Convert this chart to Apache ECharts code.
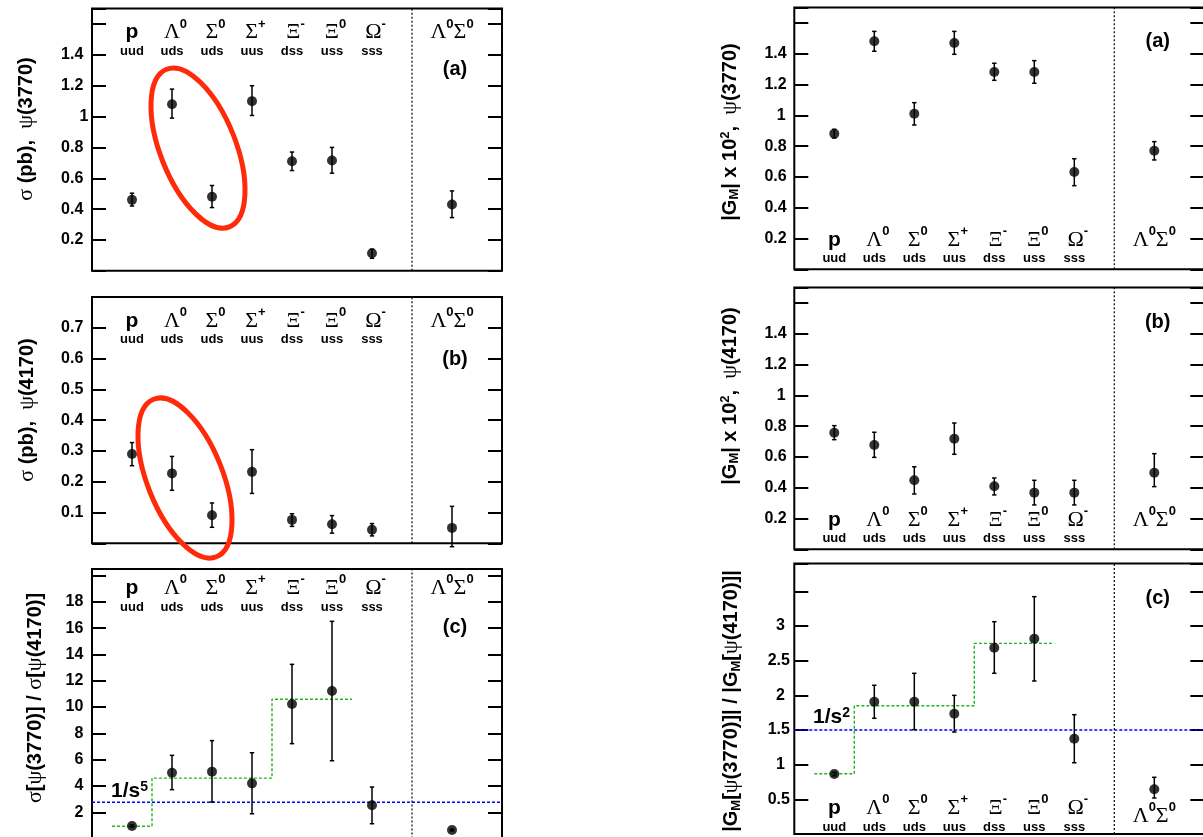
<!DOCTYPE html>
<html><head><meta charset="utf-8">
<script src="https://cdn.jsdelivr.net/npm/echarts@6/dist/echarts.min.js"></script>
<style>html,body{margin:0;padding:0;background:#fff}#c{width:1203px;height:837px}</style>
</head><body><div id="c"></div>
<script>
// ---------------- data ----------------
const xPositions = [1, 2, 3, 4, 5, 6, 7, 9];
const particleNames = ['p', 'Λ', 'Σ', 'Σ', 'Ξ', 'Ξ', 'Ω'];
const particleCharges = ['', '0', '0', '+', '-', '0', '-'];
const quarkContent = ['uud', 'uds', 'uds', 'uus', 'dss', 'uss', 'sss'];
const separatorX = 8;
const xMin = 0, xMax = 10.25;

const sigma3770 = [0.46, 1.08, 0.48, 1.10, 0.71, 0.715, 0.114, 0.43];
const sigma3770Lo = [0.42, 0.99, 0.41, 1.007, 0.65, 0.633, 0.081, 0.345];
const sigma3770Hi = [0.503, 1.178, 0.553, 1.20, 0.77, 0.80, 0.14, 0.518];

const sigma4170 = [0.290, 0.227, 0.091, 0.232, 0.076, 0.062, 0.044, 0.05];
const sigma4170Lo = [0.252, 0.172, 0.052, 0.162, 0.055, 0.033, 0.024, -0.011];
const sigma4170Hi = [0.327, 0.282, 0.131, 0.304, 0.096, 0.090, 0.064, 0.12];

const sigmaRatio = [0.96, 5.01, 5.09, 4.2, 10.24, 11.22, 2.53, 0.65];
const sigmaRatioLo = [0.88, 3.72, 2.78, 1.89, 7.22, 5.92, 1.13, 0.58];
const sigmaRatioHi = [1.04, 6.33, 7.45, 6.53, 13.25, 16.52, 3.92, 0.72];

const gm3770 = [0.881, 1.481, 1.010, 1.469, 1.281, 1.281, 0.632, 0.770];
const gm3770Lo = [0.853, 1.416, 0.937, 1.396, 1.227, 1.208, 0.543, 0.71];
const gm3770Hi = [0.909, 1.545, 1.082, 1.545, 1.338, 1.355, 0.718, 0.829];

const gm4170 = [0.757, 0.677, 0.448, 0.718, 0.409, 0.368, 0.368, 0.497];
const gm4170Lo = [0.712, 0.597, 0.359, 0.617, 0.353, 0.288, 0.288, 0.407];
const gm4170Hi = [0.803, 0.76, 0.536, 0.82, 0.463, 0.448, 0.448, 0.621];

const gmRatio = [0.865, 1.908, 1.908, 1.735, 2.687, 2.817, 1.375, 0.645];
const gmRatioLo = [0.84, 1.669, 1.505, 1.471, 2.318, 2.207, 1.028, 0.519];
const gmRatioHi = [0.89, 2.145, 2.318, 2.0, 3.062, 3.423, 1.721, 0.818];

const stepEdges = [0.5, 1.5, 4.5, 6.5];
const sigmaStepLevels = [0.94, 4.6, 10.6];
const gmStepLevels = [0.87, 1.85, 2.75];
const sigmaPowerLaw = 2.76;   // 1/s^5
const gmPowerLaw = 1.5;       // 1/s^2

const ellipseCenters = [[2.65, 0.796], [2.325, 0.212]];

const yTicksA = {min: 0, max: 1.7, interval: 0.2, hide: [1.6]};
const yTicksB = {min: 0, max: 0.8, interval: 0.1, hide: []};
const yTicksC = {min: 0, max: 20.5, interval: 2, hide: [20]};
const yTicksGC = {min: 0, max: 3.9, interval: 0.5, hide: [3.5]};

// ---------------- layout ----------------
const SANS = 'Liberation Sans', SERIF = 'Liberation Serif';
const panels = [
  {grid: {left: 92, top: 8.6, width: 410, height: 262.2}, y: yTicksA, side: 'top', lm: 9, raise: false,
   v: sigma3770, lo: sigma3770Lo, hi: sigma3770Hi, decPad: 5, intPad: 0, margin: 3.7, ellipse: 0},
  {grid: {left: 92, top: 296.9, width: 410, height: 246.4}, y: yTicksB, side: 'top', lm: 9, raise: false,
   v: sigma4170, lo: sigma4170Lo, hi: sigma4170Hi, decPad: 5, intPad: 0, margin: 3.7, ellipse: 1},
  {grid: {left: 92, top: 569, width: 410, height: 269.6}, y: yTicksC, side: 'top', lm: 4, raise: false,
   v: sigmaRatio, lo: sigmaRatioLo, hi: sigmaRatioHi, decPad: 0, intPad: 0, margin: 8.7,
   steps: sigmaStepLevels, power: sigmaPowerLaw},
  {grid: {left: 794.3, top: 7.5, width: 410, height: 261.8}, y: yTicksA, side: 'bottom', lm: 6.5, raise: true,
   v: gm3770, lo: gm3770Lo, hi: gm3770Hi, decPad: 0, intPad: 1, margin: 7.6},
  {grid: {left: 794.3, top: 287.5, width: 410, height: 261.8}, y: yTicksA, side: 'bottom', lm: 6.5, raise: true,
   v: gm4170, lo: gm4170Lo, hi: gm4170Hi, decPad: 0, intPad: 1, margin: 7.6},
  {grid: {left: 794.3, top: 563.6, width: 410, height: 270.4}, y: yTicksGC, side: 'bottom', lm: 3, raise: false,
   v: gmRatio, lo: gmRatioLo, hi: gmRatioHi, decPad: 0, intPad: 5, margin: 4.4,
   steps: gmStepLevels, power: gmPowerLaw}
];

const labelRich = {
  pn: {fontFamily: SANS, fontWeight: 'bold', fontSize: 21, lineHeight: 30, color: '#000'},
  gn: {fontFamily: SERIF, fontSize: 22, lineHeight: 30, color: '#000', padding: [0, 0, 0, 7]},
  gm: {fontFamily: SERIF, fontSize: 22, lineHeight: 30, color: '#000'},
  ch: {fontFamily: SANS, fontWeight: 'bold', fontSize: 13, lineHeight: 12, verticalAlign: 'top', color: '#000'},
  q: {fontFamily: SANS, fontWeight: 'bold', fontSize: 13, lineHeight: 8, color: '#000'},
  e: {fontSize: 8, lineHeight: 8}
};
function particleLabel(raise) {
  return function (v) {
    const i = xPositions.indexOf(v);
    if (i < 0) return '';
    if (i === 7) return '{gm|Λ}{ch|0}{gm|Σ}{ch|0}' + (raise ? '\n{e| }' : '');
    const nm = i === 0 ? '{pn|p}' : '{gn|' + particleNames[i] + '}{ch|' + particleCharges[i] + '}';
    return nm + '\n{q|' + quarkContent[i] + '}';
  };
}

const grids = [], xAxes = [], yAxes = [], series = [];
panels.forEach((P, k) => {
  grids.push(Object.assign({show: true, borderColor: '#000', borderWidth: 2,
    backgroundColor: 'transparent', containLabel: false, outerBoundsMode: 'none'}, P.grid));
  xAxes.push({type: 'value', gridIndex: k, min: xMin, max: xMax, interval: 1, position: P.side,
    axisLine: {show: false}, axisTick: {show: false}, splitLine: {show: false},
    axisLabel: {show: true, inside: true, margin: P.lm,
      formatter: particleLabel(P.raise), rich: labelRich, showMinLabel: true, showMaxLabel: true}});
  const Y = P.y;
  const fmt = function (v) {
    if (v <= Y.min + 1e-9 || v >= Y.max - 1e-9) return '';
    for (const h of Y.hide) if (Math.abs(v - h) < 1e-6) return '';
    const s = String(Math.round(v * 1000) / 1000);
    return Number.isInteger(Math.round(v * 1000) / 1000) ? '{i|' + s + '}' : '{d|' + s + '}';
  };
  const tickStyle = {show: true, inside: true, length: 14, lineStyle: {color: '#000', width: 2}};
  yAxes.push({type: 'value', gridIndex: k, min: Y.min, max: Y.max, interval: Y.interval, position: 'left',
    axisLine: {show: false}, axisTick: tickStyle, splitLine: {show: false},
    axisLabel: {show: true, margin: P.margin, formatter: fmt,
      rich: {
        d: {fontFamily: SANS, fontWeight: 'bold', fontSize: 16, color: '#000', padding: [0, P.decPad, 0, 0]},
        i: {fontFamily: SANS, fontWeight: 'bold', fontSize: 16, color: '#000', padding: [0, P.intPad, 0, 0]}
      }}});
  yAxes.push({type: 'value', gridIndex: k, min: Y.min, max: Y.max, interval: Y.interval, position: 'right',
    axisLine: {show: false}, axisTick: tickStyle, splitLine: {show: false}, axisLabel: {show: false}});
  const yi = 2 * k;
  // separator
  series.push({type: 'line', xAxisIndex: k, yAxisIndex: yi, silent: true, symbol: 'none', z: 1,
    data: [[separatorX, Y.min], [separatorX, Y.max]],
    lineStyle: {color: '#000', width: 1.2, type: [2, 2]}});
  if (P.power !== undefined) {
    series.push({type: 'line', xAxisIndex: k, yAxisIndex: yi, silent: true, symbol: 'none', z: 2,
      data: [[xMin, P.power], [xMax, P.power]],
      lineStyle: {color: '#0000ff', width: 1.4, type: [3, 2]}});
    const pts = [];
    P.steps.forEach((lv, j) => { pts.push([stepEdges[j], lv]); pts.push([stepEdges[j + 1], lv]); });
    series.push({type: 'line', xAxisIndex: k, yAxisIndex: yi, silent: true, symbol: 'none', z: 2,
      data: pts, lineStyle: {color: '#1fb51f', width: 1.4, type: [3, 2]}});
  }
  // error bars
  series.push({type: 'custom', xAxisIndex: k, yAxisIndex: yi, silent: true, z: 3,
    data: xPositions.map((x, i) => [x, P.lo[i], P.hi[i]]),
    encode: {x: 0, y: [1, 2]},
    renderItem: function (params, api) {
      const x = api.value(0);
      const a = api.coord([x, api.value(1)]), b = api.coord([x, api.value(2)]);
      const st = {stroke: '#000', lineWidth: 1.5};
      const c = 2.2;
      return {type: 'group', children: [
        {type: 'line', shape: {x1: a[0], y1: a[1], x2: b[0], y2: b[1]}, style: st},
        {type: 'line', shape: {x1: a[0] - c, y1: a[1], x2: a[0] + c, y2: a[1]}, style: st},
        {type: 'line', shape: {x1: b[0] - c, y1: b[1], x2: b[0] + c, y2: b[1]}, style: st}
      ]};
    }});
  series.push({type: 'scatter', xAxisIndex: k, yAxisIndex: yi, symbol: 'circle', symbolSize: 10, z: 4,
    itemStyle: {color: '#000'}, data: xPositions.map((x, i) => [x, P.v[i]])});
  if (P.ellipse !== undefined) {
    series.push({type: 'custom', xAxisIndex: k, yAxisIndex: yi, silent: true, clip: false, z: 5,
      data: [ellipseCenters[P.ellipse]],
      renderItem: function (params, api) {
        const p = api.coord([api.value(0), api.value(1)]);
        return {type: 'ellipse', x: p[0], y: p[1], rotation: 0.379,
          shape: {cx: 0, cy: 0, rx: 37.7, ry: 84.8},
          style: {fill: 'none', stroke: '#ff2a0a', lineWidth: 5}};
      }});
  }
});

const tRich = {
  b: {fontFamily: SANS, fontWeight: 'bold', fontSize: 20, color: '#000'},
  g: {fontFamily: SERIF, fontSize: 22, color: '#000'},
  sup: {fontFamily: SANS, fontWeight: 'bold', fontSize: 13, verticalAlign: 'top', color: '#000'},
  sub: {fontFamily: SANS, fontWeight: 'bold', fontSize: 13, verticalAlign: 'bottom', color: '#000'}
};
const axisTitles = [
  {x: 26.7, y: 129, t: '{g|σ}{b| (pb),  }{g|ψ}{b|(3770)}'},
  {x: 27, y: 410, t: '{g|σ}{b| (pb),  }{g|ψ}{b|(4170)}'},
  {x: 35, y: 698, t: '{g|σ}{b|[}{g|ψ}{b|(3770)] / }{g|σ}{b|[}{g|ψ}{b|(4170)]}'},
  {x: 730, y: 132, t: '{b||G}{sub|M}{b|| x 10}{sup|2}{b|,  }{g|ψ}{b|(3770)}'},
  {x: 730, y: 396, t: '{b||G}{sub|M}{b|| x 10}{sup|2}{b|,  }{g|ψ}{b|(4170)}'},
  {x: 731.7, y: 701, t: '{b||G}{sub|M}{b|[}{g|ψ}{b|(3770)]| / |G}{sub|M}{b|[}{g|ψ}{b|(4170)]|}'}
];
const tags = [
  {x: 455, y: 69, t: '(a)'}, {x: 455, y: 359.3, t: '(b)'}, {x: 455, y: 627.7, t: '(c)'},
  {x: 1157.7, y: 41.3, t: '(a)'}, {x: 1157.7, y: 322, t: '(b)'}, {x: 1157.7, y: 598.3, t: '(c)'}
];
const graphics = [];
axisTitles.forEach(o => graphics.push({type: 'text', x: o.x, y: o.y, rotation: Math.PI / 2, z: 10,
  style: {text: o.t, rich: tRich, align: 'center', verticalAlign: 'middle', textAlign: 'center', textVerticalAlign: 'middle'}}));
tags.forEach(o => graphics.push({type: 'text', x: o.x, y: o.y, z: 10,
  style: {text: o.t, fill: '#000', font: 'bold 20px "Liberation Sans"', align: 'center', verticalAlign: 'middle',
    textAlign: 'center', textVerticalAlign: 'middle'}}));
const powRich = {
  a: {fontFamily: SANS, fontWeight: 'bold', fontSize: 21, color: '#000'},
  s: {fontFamily: SANS, fontWeight: 'bold', fontSize: 14, verticalAlign: 'top', color: '#000'}
};
graphics.push({type: 'text', x: 111, y: 791, z: 10,
  style: {text: '{a|1/s}{s|5}', rich: powRich, align: 'left', verticalAlign: 'middle', textAlign: 'left', textVerticalAlign: 'middle'}});
graphics.push({type: 'text', x: 813, y: 717, z: 10,
  style: {text: '{a|1/s}{s|2}', rich: powRich, align: 'left', verticalAlign: 'middle', textAlign: 'left', textVerticalAlign: 'middle'}});

const chart = echarts.init(document.getElementById('c'), null, {renderer: 'canvas'});
chart.setOption({
  animation: false,
  backgroundColor: '#fff',
  grid: grids, xAxis: xAxes, yAxis: yAxes, series: series, graphic: graphics
});
</script></body></html>
